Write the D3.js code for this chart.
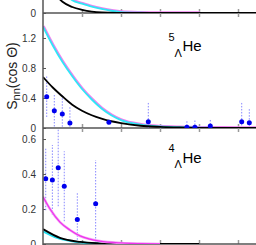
<!DOCTYPE html>
<html><head><meta charset="utf-8">
<script src="https://cdn.jsdelivr.net/npm/d3@7"></script>
<style>html,body{margin:0;padding:0;background:#fff;overflow:hidden}</style>
</head><body>
<svg id="c" width="256" height="245"></svg>
<script>
// ---- data ----
const xTicks = [0, 20, 40, 60, 80, 100, 120];
const yTicksTop = [0];
const yTicksMid = [0, 0.4, 0.8, 1.2];
const yTicksBot = [0, 0.2, 0.4, 0.6];

// top panel curves
const topBlackX = [0, 5, 10, 15, 20, 25, 30, 40, 50, 120];
const topBlackY = [0.6, 0.3, 0.15, 0.08, 0.042, 0.018, 0.007, 0.002, 0, 0];
const topCyanX = [0, 10, 15, 20, 25, 30, 35, 40, 50, 60, 80];
const topCyanY = [0.8, 0.3, 0.17, 0.125, 0.085, 0.055, 0.03, 0.013, 0.004, 0.001, 0];

// 5-Lambda-He panel
const midCyanX = [0, 5, 10, 15, 20, 25, 30, 35, 40, 50, 60, 70, 80, 100, 110];
const midCyanY = [1.35, 1.1, 0.88, 0.69, 0.52, 0.38, 0.26, 0.17, 0.105, 0.045, 0.02, 0.01, 0.005, 0.002, 0];
const midBlackX = [0, 5, 10, 15, 20, 25, 30, 35, 40, 50, 60, 70, 80, 100, 120];
const midBlackY = [0.68, 0.54, 0.42, 0.31, 0.23, 0.17, 0.125, 0.09, 0.065, 0.03, 0.015, 0.007, 0.003, 0.001, 0];
const midPtX = [1.9, 5.8, 9.9, 13.8, 33.8, 54, 73.8, 77.9, 85.8, 101.9, 105.8];
const midPtY = [0.417, 0.23, 0.187, 0.067, 0.076, 0.084, 0.01, 0.01, 0.027, 0.084, 0.071];
const midPtErr = [0.27, 0.21, 0.25, 0.21, 0.03, 0.25, 0.1, 0.09, 0.1, 0.25, 0.2];

// 4-Lambda-He panel
const botMagX = [0, 3.6, 8.7, 13.8, 19, 24, 29, 40, 50, 60];
const botMagY = [0.27, 0.2, 0.125, 0.08, 0.046, 0.028, 0.017, 0.006, 0.002, 0];
const botBlackX = [0, 8.7, 19, 29, 40, 60, 80];
const botBlackY = [0.085, 0.035, 0.012, 0.004, 0.001, 0, 0];
const botCyanX = [0, 6, 13, 20, 30, 40];
const botCyanY = [0.072, 0.04, 0.02, 0.008, 0.002, 0];
const botPtX = [1.4, 4.8, 7.8, 10.9, 17.6, 27];
const botPtY = [0.373, 0.366, 0.436, 0.33, 0.14, 0.23];
const botPtErr = [0.18, 0.2, 0.22, 0.2, 0.15, 0.25];

// ---- drawing ----
const svg = d3.select("#c");
const x = d3.scaleLinear().domain([0, 120]).range([43, 277]);
const W = 256;

const panels = [
  {id: "top", y: d3.scaleLinear().domain([0, 1.5]).range([13, -99.5]), ticks: yTicksTop,
   curves: [
     {xs: topCyanX, ys: topCyanY, color: "#f080f0", w: 2, dx: 0.7, dy: -0.7},
     {xs: topCyanX, ys: topCyanY, color: "#30e6f6", w: 1.8},
     {xs: topBlackX, ys: topBlackY, color: "#000", w: 1.8}
   ], pts: null},
  {id: "mid", y: d3.scaleLinear().domain([0, 1.533]).range([128, 13]), ticks: yTicksMid,
   curves: [
     {xs: midCyanX, ys: midCyanY, color: "#f080f0", w: 2, dx: 0.7, dy: -0.7},
     {xs: midCyanX, ys: midCyanY, color: "#30e6f6", w: 1.8},
     {xs: midBlackX, ys: midBlackY, color: "#000", w: 1.8}
   ], pts: {xs: midPtX, ys: midPtY, es: midPtErr},
   label: {n: "5", y: 40.7}},
  {id: "bot", y: d3.scaleLinear().domain([0, 0.663]).range([244, 128]), ticks: yTicksBot,
   curves: [
     {xs: botCyanX, ys: botCyanY, color: "#22e0f0", w: 2},
     {xs: botBlackX, ys: botBlackY, color: "#000", w: 1.8},
     {xs: botMagX, ys: botMagY, color: "#f4a8f4", w: 2.6},
     {xs: botMagX, ys: botMagY, color: "#ee33ee", w: 1.3}
   ], pts: {xs: botPtX, ys: botPtY, es: botPtErr},
   label: {n: "4", y: 152.3}}
];

const fmt = d => d === 0 ? "0" : d3.format(".1f")(d);

panels.forEach((p, i) => {
  const y = p.y;
  const y0 = y(0), y1 = y.range()[1];
  const g = svg.append("g");
  const cid = "clip" + i;
  svg.append("clipPath").attr("id", cid).append("rect")
    .attr("x", 43).attr("y", Math.min(y0, y1)).attr("width", 300).attr("height", Math.abs(y0 - y1));

  // x ticks (inward)
  g.append("g").attr("transform", `translate(0,${y0})`)
    .call(d3.axisBottom(x).tickValues(xTicks.slice(1)).tickSize(-4).tickFormat(""))
    .call(a => a.select(".domain").remove())
    .call(a => a.selectAll("line").attr("stroke", "#999").attr("stroke-width", 1.5));
  if (p.id !== "top") {
    g.append("g").attr("transform", `translate(0,${y1})`)
      .call(d3.axisTop(x).tickValues(xTicks.slice(1)).tickSize(-4).tickFormat(""))
      .call(a => a.select(".domain").remove())
      .call(a => a.selectAll("line").attr("stroke", "#999").attr("stroke-width", 1.5));
  }
  // y axis ticks and labels
  g.append("g").attr("transform", "translate(43,0)")
    .call(d3.axisLeft(y).tickValues(p.ticks).tickSize(-3).tickPadding(7).tickFormat(fmt))
    .call(a => a.select(".domain").remove())
    .call(a => a.selectAll("line").attr("stroke", "#555").attr("stroke-width", 1))
    .call(a => a.selectAll("text").attr("font-family", "Liberation Sans, Arial, sans-serif")
      .attr("font-size", 10).attr("fill", "#333"));

  // zero/frame line
  g.append("line").attr("x1", 43).attr("x2", W).attr("y1", y0).attr("y2", y0)
    .attr("stroke", "#555").attr("stroke-width", 1.5);

  const cg = g.append("g").attr("clip-path", `url(#${cid})`);
  // error bars
  if (p.pts) {
    const idx = d3.range(p.pts.xs.length);
    cg.selectAll("line.err").data(idx).join("line").attr("class", "err")
      .attr("x1", j => x(p.pts.xs[j])).attr("x2", j => x(p.pts.xs[j]))
      .attr("y1", j => y(p.pts.ys[j] - p.pts.es[j])).attr("y2", j => y(p.pts.ys[j] + p.pts.es[j]))
      .attr("stroke", "#8888ff").attr("stroke-width", 1).attr("stroke-dasharray", "1.5,1.5");
  }
  // curves
  p.curves.forEach(c => {
    const line = d3.line().x(j => x(c.xs[j])).y(j => y(c.ys[j])).curve(d3.curveMonotoneX);
    cg.append("path").attr("d", line(d3.range(c.xs.length)))
      .attr("transform", `translate(${c.dx || 0},${c.dy || 0})`)
      .attr("fill", "none").attr("stroke", c.color).attr("stroke-width", c.w);
  });
  if (p.pts) {
    const idx = d3.range(p.pts.xs.length);
    cg.selectAll("circle").data(idx).join("circle")
      .attr("cx", j => x(p.pts.xs[j])).attr("cy", j => y(p.pts.ys[j])).attr("r", 2.5)
      .attr("fill", "#0000ee");
  }
  // nucleus label
  if (p.label) {
    const lg = svg.append("g").attr("font-family", "Liberation Sans, Arial, sans-serif").attr("fill", "#000");
    lg.append("text").attr("x", 168.5).attr("y", p.label.y).attr("font-size", 11).text(p.label.n);
    lg.append("text").attr("x", 174.5).attr("y", p.label.y + 16).attr("font-size", 11).text("Λ");
    lg.append("text").attr("x", 182.5).attr("y", p.label.y + 10.5).attr("font-size", 15).text("He");
  }
});

// y axis line
svg.append("line").attr("x1", 43).attr("x2", 43).attr("y1", 0).attr("y2", 245)
  .attr("stroke", "#555").attr("stroke-width", 1.5);

// y title
const t = svg.append("text").attr("transform", "translate(17,76) rotate(-90)")
  .attr("text-anchor", "middle").attr("font-family", "Liberation Sans, Arial, sans-serif")
  .attr("font-size", 14).attr("fill", "#222");
t.append("tspan").text("S");
t.append("tspan").attr("dy", 3).attr("font-size", 11).text("nn");
t.append("tspan").attr("dy", -3).text("(cos Θ)");
</script>
</body></html>
